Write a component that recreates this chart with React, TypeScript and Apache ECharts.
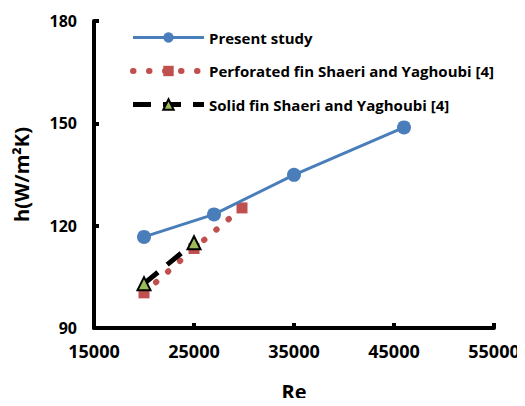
import React, { useEffect, useRef } from "react";
import * as echarts from "echarts";

const presentX = [20000, 27000, 35000, 46000];
const presentY = [116.7, 123.3, 134.9, 148.8];
const perfX = [20000, 25000, 29800];
const perfY = [100.3, 113.3, 125.2];
const solidX = [20000, 25000];
const solidY = [103.0, 115.0];
const seriesNames = [
  "Present study",
  "Perforated fin Shaeri and Yaghoubi [4]",
  "Solid fin Shaeri and Yaghoubi [4]",
];

const FONT = "Open Sans";

export default function App() {
  const ref = useRef<HTMLDivElement>(null);
  useEffect(() => {
    if (!ref.current) return;
    const chart = echarts.init(ref.current, null, { renderer: "svg" });
    const zip = (xs: number[], ys: number[]) => xs.map((x, i) => [x, ys[i]]);
    chart.setOption({
      animation: false,
      backgroundColor: "#ffffff",
      grid: { left: 94, top: 21, right: 31, bottom: 75.5, containLabel: false },
      legend: {
        orient: "vertical",
        left: 125,
        top: 25,
        itemWidth: 71,
        itemHeight: 13,
        itemGap: 18.5,
        textStyle: { fontFamily: FONT, fontWeight: "bold", fontSize: 15, color: "#000" },
        data: [
          { name: seriesNames[0], lineStyle: { width: 3 } },
          { name: seriesNames[1], lineStyle: { width: 6 } },
          { name: seriesNames[2], lineStyle: { width: 5 } },
        ],
      },
      xAxis: {
        type: "value",
        min: 15000,
        max: 55000,
        interval: 10000,
        name: "Re",
        nameLocation: "middle",
        nameGap: 53,
        nameTextStyle: { fontFamily: FONT, fontWeight: "bold", fontSize: 20, color: "#000" },
        axisLine: { lineStyle: { color: "#000", width: 4 } },
        axisTick: { inside: true, length: 5, lineStyle: { color: "#000", width: 4 } },
        axisLabel: {
          fontFamily: FONT,
          fontWeight: "bold",
          fontSize: 18,
          color: "#000",
          margin: 14,
          formatter: (v: number) => String(v),
        },
        splitLine: { show: false },
      },
      yAxis: {
        type: "value",
        min: 90,
        max: 180,
        interval: 30,
        name: "h(W/m\u00B2K)",
        nameLocation: "middle",
        nameGap: 63,
        nameRotate: 90,
        nameTextStyle: { fontFamily: FONT, fontWeight: "bold", fontSize: 20, color: "#000" },
        axisLine: { show: true, lineStyle: { color: "#000", width: 4 } },
        axisTick: { show: true, inside: true, length: 5, lineStyle: { color: "#000", width: 4 } },
        axisLabel: { fontFamily: FONT, fontWeight: "bold", fontSize: 16, color: "#000", margin: 17 },
        splitLine: { show: false },
      },
      series: [
        {
          name: seriesNames[0],
          type: "line",
          data: zip(presentX, presentY),
          symbol: "circle",
          symbolSize: 14,
          itemStyle: { color: "#4a7ebb" },
          lineStyle: { color: "#4a7ebb", width: 3 },
          z: 3,
        },
        {
          name: seriesNames[1],
          type: "line",
          data: zip(perfX, perfY),
          symbol: "rect",
          symbolSize: 11,
          itemStyle: { color: "#c0504d" },
          lineStyle: { color: "#c0504d", width: 6, type: [0.5, 15.5], cap: "round" },
          z: 2,
        },
        {
          name: seriesNames[2],
          type: "line",
          data: zip(solidX, solidY),
          symbol: "triangle",
          symbolSize: 13,
          itemStyle: { color: "#9bbb59", borderColor: "#000", borderWidth: 2 },
          lineStyle: { color: "#000", width: 5, type: [18, 12] },
          z: 4,
        },
      ],
    });
    return () => chart.dispose();
  }, []);
  return <div ref={ref} style={{ width: 525, height: 406, margin: -8 }} />;
}
